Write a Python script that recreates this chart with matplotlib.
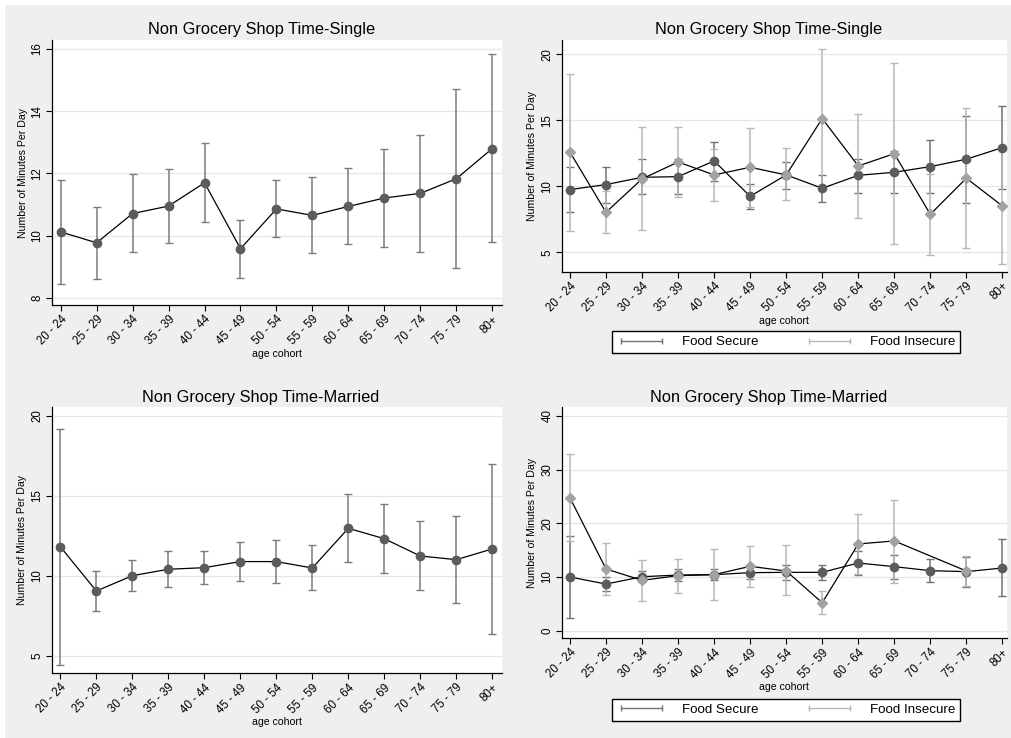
import numpy as np
import matplotlib
matplotlib.use('Agg')
import matplotlib.pyplot as plt
from matplotlib.patches import Rectangle
from matplotlib.lines import Line2D

plt.rcParams['font.family'] = ['Liberation Sans', 'DejaVu Sans']

cohorts = ['20 - 24', '25 - 29', '30 - 34', '35 - 39', '40 - 44', '45 - 49', '50 - 54',
           '55 - 59', '60 - 64', '65 - 69', '70 - 74', '75 - 79', '80+']

# single, all households
single_mean = [10.12, 9.77, 10.71, 10.95, 11.70, 9.58, 10.86, 10.65, 10.94, 11.21, 11.36, 11.83, 12.80]
single_lo = [8.43, 8.62, 9.46, 9.75, 10.45, 8.63, 9.97, 9.43, 9.72, 9.64, 9.48, 8.95, 9.78]
single_hi = [11.79, 10.93, 11.98, 12.15, 12.97, 10.51, 11.79, 11.87, 12.18, 12.77, 13.24, 14.71, 15.84]

# single, by food security
single_sec_mean = [9.75, 10.13, 10.68, 10.73, 11.92, 9.24, 10.86, 9.85, 10.83, 11.06, 11.49, 12.05, 12.93]
single_sec_lo = [8.03, 8.76, 9.42, 9.44, 10.43, 8.28, 9.82, 8.81, 9.52, 9.47, 9.49, 8.76, 9.80]
single_sec_hi = [11.44, 11.46, 12.05, 12.03, 13.38, 10.20, 11.84, 10.88, 12.10, 12.65, 13.48, 15.33, 16.06]
single_ins_mean = [12.58, 8.03, 10.56, 11.84, 10.86, 11.44, 10.86, 15.13, 11.54, 12.47, 7.88, 10.61, 8.51]
single_ins_lo = [6.64, 6.44, 6.67, 9.19, 8.91, 8.46, 8.94, 9.86, 7.60, 5.61, 4.80, 5.30, 4.14]
single_ins_hi = [18.48, 9.67, 14.47, 14.47, 12.80, 14.44, 12.88, 20.40, 15.45, 19.34, 10.96, 15.91, 12.88]

# married, all households
married_mean = [11.83, 9.06, 10.02, 10.42, 10.52, 10.90, 10.90, 10.50, 12.98, 12.33, 11.25, 11.02, 11.69]
married_lo = [4.46, 7.83, 9.04, 9.29, 9.50, 9.71, 9.54, 9.10, 10.85, 10.19, 9.10, 8.29, 6.38]
married_hi = [19.19, 10.33, 11.02, 11.54, 11.58, 12.10, 12.27, 11.92, 15.10, 14.50, 13.46, 13.77, 17.02]

# married, by food security (nan = no estimate)
nan = np.nan
married_sec_mean = [10.00, 8.69, 10.05, 10.37, 10.44, 10.81, 10.87, 10.87, 12.61, 11.93, 11.18, 11.00, 11.68]
married_sec_lo = [2.40, 7.44, 9.07, 9.19, 9.38, 9.63, 9.50, 9.38, 10.40, 9.69, 9.07, 8.20, 6.39]
married_sec_hi = [17.70, 9.94, 11.12, 11.56, 11.56, 11.99, 12.30, 12.30, 14.80, 14.17, 13.42, 13.67, 17.03]
married_ins_mean = [24.75, 11.49, 9.38, 10.25, 10.44, 11.99, 11.12, 5.21, 16.16, 16.72, nan, 11.12, nan]
married_ins_lo = [16.66, 6.64, 5.58, 7.08, 5.71, 8.07, 6.64, 3.09, 10.52, 8.94, nan, 8.40, nan]
married_ins_hi = [32.96, 16.35, 13.24, 13.30, 15.20, 15.79, 16.04, 7.39, 21.80, 24.44, nan, 13.86, nan]

W, H = 1011, 738
BG = '#efefef'
C_SEC = '#5c5c5c'
C_INS = '#a2a2a2'
E_SEC = '#727272'
E_INS = '#b8b8b8'
E_ALL = '#7c7c7c'

fig = plt.figure(figsize=(W / 100, H / 100), dpi=100, facecolor='white')
fig.patches.append(Rectangle((5 / W, 0), 1 - 5 / W, 1 - 5 / H, transform=fig.transFigure,
                             facecolor=BG, edgecolor='none', zorder=-10))


def make_ax(l, r, t, b):
    return fig.add_axes([l / W, 1 - b / H, (r - l) / W, (b - t) / H])


def style(ax, title, ylim, yticks, xlim):
    x = np.arange(len(cohorts))
    ax.set_facecolor('white')
    for s in ['top', 'right']:
        ax.spines[s].set_visible(False)
    for s in ['left', 'bottom']:
        ax.spines[s].set_linewidth(0.9)
    ax.set_xlim(*xlim)
    ax.set_ylim(*ylim)
    ax.set_yticks(yticks)
    ax.set_yticklabels([str(v) for v in yticks], rotation=90, va='center', fontsize=8.3)
    ax.set_xticks(x)
    ax.set_xticklabels(cohorts, rotation=45, ha='right', rotation_mode='anchor', fontsize=8.3)
    ax.tick_params(length=4, width=0.8, pad=2)
    for v in yticks:
        ax.axhline(v, color='#e6e6e6', lw=0.9, zorder=0)
    ax.set_title(title, fontsize=11.8, x=0.465, pad=4)
    ax.set_ylabel('Number of Minutes Per Day', fontsize=7.6, labelpad=3)
    ax.set_xlabel('age cohort', fontsize=7.6, labelpad=1)


def series(ax, mean, lo, hi, ecol, mcol, marker, ms):
    x = np.arange(len(cohorts))
    mean = np.array(mean, dtype=float)
    lo = np.array(lo, dtype=float)
    hi = np.array(hi, dtype=float)
    ok = ~np.isnan(mean)
    ax.errorbar(x[ok], mean[ok], yerr=[mean[ok] - lo[ok], hi[ok] - mean[ok]], fmt='none',
                ecolor=ecol, elinewidth=1.1, capsize=2.6, capthick=1.0, zorder=2)
    return x[ok], mean[ok], mcol, marker, ms


def draw_line(ax, s):
    x, y, mcol, marker, ms = s
    ax.plot(x, y, color='black', lw=0.9, marker=marker, markersize=ms,
            markerfacecolor=mcol, markeredgecolor=mcol, zorder=3)


def add_legend(top):
    handles = [Line2D([], [], color=E_SEC, lw=1.0, marker='|', markersize=5, mew=1.0),
               Line2D([], [], color=E_INS, lw=1.0, marker='|', markersize=5, mew=1.0)]
    leg = fig.legend(handles, ['Food Secure', 'Food Insecure'], loc='center',
                     bbox_to_anchor=(612 / W, 1 - (top + 24) / H, 348 / W, 24 / H),
                     ncol=2, mode='expand', numpoints=2, fontsize=9.6, handlelength=3.7,
                     handletextpad=1.2, borderaxespad=0, borderpad=0.35,
                     fancybox=False, framealpha=1, edgecolor='black')
    leg.get_frame().set_linewidth(1.0)


xl_left = (-0.24, 12.27)
xl_right = (-0.23, 12.12)

ax1 = make_ax(52, 502, 40, 305)
style(ax1, 'Non Grocery Shop Time-Single', (7.77, 16.29), [8, 10, 12, 14, 16], xl_left)
draw_line(ax1, series(ax1, single_mean, single_lo, single_hi, E_ALL, C_SEC, 'o', 6))

ax2 = make_ax(561.7, 1006.7, 40, 271.7)
style(ax2, 'Non Grocery Shop Time-Single', (3.53, 21.08), [5, 10, 15, 20], xl_right)
s_sec = series(ax2, single_sec_mean, single_sec_lo, single_sec_hi, E_SEC, C_SEC, 'o', 6)
s_ins = series(ax2, single_ins_mean, single_ins_lo, single_ins_hi, E_INS, C_INS, 'D', 5.5)
draw_line(ax2, s_sec)
draw_line(ax2, s_ins)
add_legend(330)

ax3 = make_ax(51.7, 502, 407.3, 673.3)
style(ax3, 'Non Grocery Shop Time-Married', (3.92, 20.54), [5, 10, 15, 20], xl_left)
draw_line(ax3, series(ax3, married_mean, married_lo, married_hi, E_ALL, C_SEC, 'o', 6))

ax4 = make_ax(561.7, 1006.7, 407.3, 638.3)
style(ax4, 'Non Grocery Shop Time-Married', (-1.42, 41.62), [0, 10, 20, 30, 40], xl_right)
m_sec = series(ax4, married_sec_mean, married_sec_lo, married_sec_hi, E_SEC, C_SEC, 'o', 6)
m_ins = series(ax4, married_ins_mean, married_ins_lo, married_ins_hi, E_INS, C_INS, 'D', 5.5)
draw_line(ax4, m_sec)
draw_line(ax4, m_ins)
add_legend(697.7)

fig.savefig('out.png', dpi=100, facecolor=fig.get_facecolor())
